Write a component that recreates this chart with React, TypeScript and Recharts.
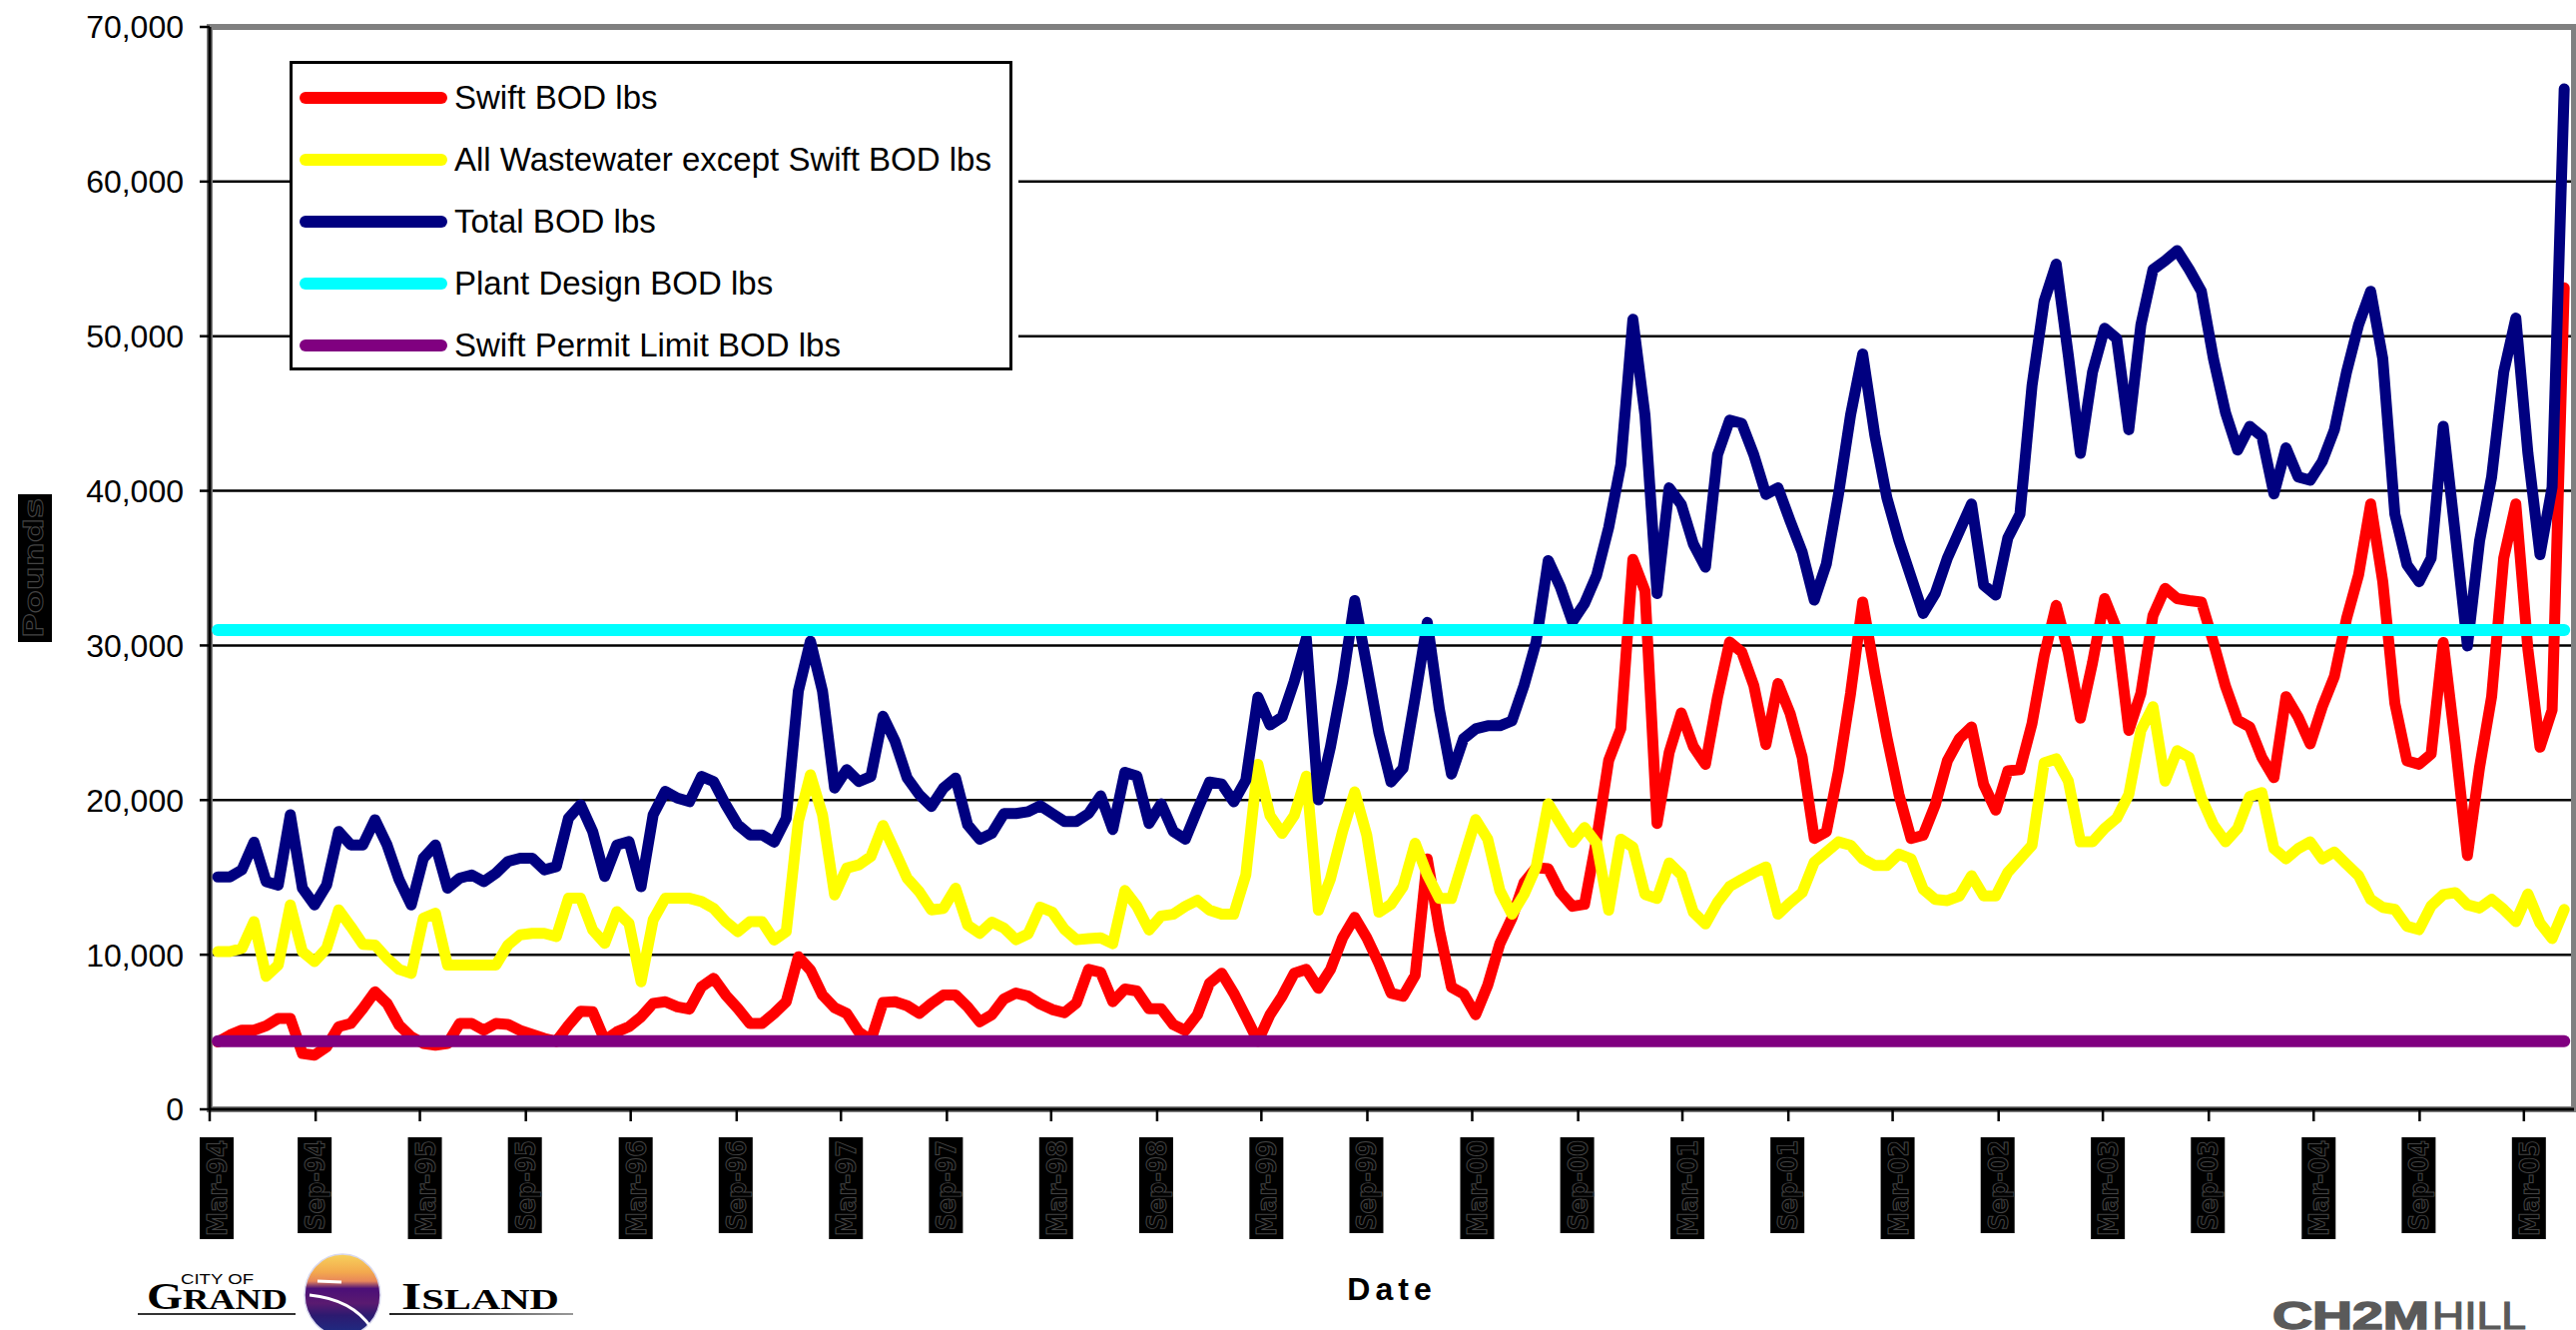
import {
  LineChart, Line, XAxis, YAxis, CartesianGrid, Legend, ReferenceArea,
} from 'recharts';

// values, one sample every 21 days starting mid March
const swiftBod = [
  4360, 4800, 5120, 5120, 5400, 5880, 5880, 3610, 3500, 4040, 5340, 5550, 6520, 7600, 6850, 5440,
  4690, 4260, 4150, 4260, 5550, 5550, 5120, 5550, 5490, 5100, 4840, 4580, 4400, 5440, 6350, 6310,
  4470, 5010, 5340, 5980, 6850, 6960, 6630, 6480, 7930, 8470, 7390, 6520, 5550, 5550, 6200, 6960,
  9870, 9010, 7390, 6570, 6200, 5010, 4470, 6910, 6960, 6700, 6200, 6850, 7390, 7390, 6630, 5660,
  6120, 7140, 7520, 7320, 6810, 6450, 6250, 6880, 9050, 8850, 6960, 7780, 7650, 6500, 6500, 5480,
  5100, 6120, 8160, 8800, 7520, 5990, 4410, 6120, 7320, 8800, 9050, 7830, 9050, 11090, 12420, 11090,
  9440, 7520, 7320, 8670, 16190, 11600, 7900, 7470, 6120, 8030, 10710, 12370, 14660, 15630, 15560, 14030,
  13130, 13260, 17470, 22570, 24610, 35570, 33530, 18490, 23080, 25630, 23460, 22310, 26650, 30220, 29580, 27410,
  23590, 27540, 25600, 22760, 17520, 17950, 21890, 26910, 32810, 28220, 24070, 20360, 17520, 17730, 19700, 22540,
  23980, 24730, 21010, 19350, 21890, 21970, 24950, 29320, 32590, 29530, 25300, 28880, 33030, 31060, 24510, 26910,
  31940, 33690, 33030, 32900, 32810, 30190, 27350, 25160, 24730, 22760, 21450, 26690, 25380, 23630, 26040, 28000,
  31720, 34560, 39150, 34120, 26260, 22540, 22320, 22980, 30190, 23630, 16420, 22100, 26690, 35650, 39150, 29750,
  23420, 25820, 53130,
];

const otherBod = [
  10200, 10200, 10410, 12140, 8600, 9330, 13220, 10200, 9550, 10410, 12900, 11820, 10670, 10630, 9760, 9050,
  8790, 12360, 12680, 9330, 9330, 9330, 9330, 9330, 10630, 11280, 11380, 11380, 11170, 13650, 13650, 11600,
  10740, 12790, 12030, 8250, 12250, 13650, 13650, 13650, 13440, 13000, 12140, 11490, 12140, 12140, 10950, 11490,
  18620, 21640, 19050, 13870, 15600, 15810, 16350, 18360, 16680, 14950, 14080, 12900, 13000, 14300, 11920, 11380,
  12110, 11730, 10970, 11350, 13080, 12750, 11650, 10970, 11040, 11090, 10710, 14150, 13130, 11600, 12500, 12620,
  13130, 13520, 12880, 12620, 12620, 15170, 22310, 19000, 17850, 19000, 21550, 12880, 14920, 17980, 20530, 17720,
  12750, 13260, 14410, 17210, 15170, 13640, 13640, 16190, 18740, 17470, 14150, 12620, 13900, 15680, 19760, 18490,
  17260, 18230, 17210, 12880, 17470, 16960, 13900, 13640, 15940, 15170, 12750, 11990, 13390, 14410, 14870, 15300,
  15680, 12620, 13360, 14020, 15990, 16640, 17300, 17080, 16200, 15770, 15770, 16510, 16200, 14240, 13580, 13500,
  13800, 15110, 13800, 13800, 15330, 16200, 17080, 22410, 22670, 21230, 17300, 17300, 18170, 18830, 20360, 24510,
  26040, 21230, 23200, 22760, 20140, 18390, 17300, 18170, 20230, 20490, 16860, 16200, 16860, 17300, 16200, 16640,
  15860, 15110, 13580, 13060, 12930, 11840, 11620, 13150, 13890, 14020, 13230, 13020, 13580, 12930, 12140, 13930,
  12050, 11050, 12930,
];

const totalBod = [
  15030, 15030, 15490, 17280, 14730, 14500, 19050, 14300, 13220, 14500, 17970, 17100, 17100, 18730, 17100, 14840,
  13220, 16240, 17100, 14300, 14950, 15160, 14730, 15270, 16030, 16240, 16240, 15490, 15700, 18830, 19700, 17970,
  15060, 17100, 17320, 14400, 19050, 20560, 20130, 19900, 21530, 21200, 19700, 18400, 17750, 17750, 17280, 18830,
  27040, 30280, 27040, 20780, 21970, 21200, 21530, 25420, 23800, 21430, 20350, 19590, 20780, 21430, 18400, 17470,
  17850, 19130, 19130, 19250, 19640, 19130, 18620, 18620, 19130, 20270, 18100, 21800, 21550, 18490, 19760, 17980,
  17470, 19380, 21170, 21040, 19890, 21290, 26650, 24860, 25370, 27670, 30470, 20020, 23460, 27670, 32900, 28690,
  24350, 21170, 22060, 26650, 31490, 25880, 21680, 23970, 24610, 24810, 24810, 25120, 27410, 30220, 35490, 33780,
  31540, 32710, 34530, 37630, 41690, 51090, 44900, 33360, 40190, 39120, 36560, 35060, 42330, 44570, 44360, 42330,
  39770, 40190, 38060, 36030, 32930, 35280, 39770, 44900, 48850, 43610, 39550, 36770, 34420, 32070, 33360, 35650,
  37400, 39150, 33900, 33250, 36960, 38490, 46800, 52260, 54660, 48760, 42430, 47670, 50510, 49850, 43950, 50730,
  54310, 54880, 55540, 54310, 52910, 48540, 45050, 42640, 44170, 43520, 39800, 42780, 40900, 40680, 41900, 43950,
  47670, 50730, 52910, 48540, 38490, 35220, 34120, 35650, 44170, 37180, 29970, 36740, 40900, 47670, 51170, 42430,
  35870, 40240, 66000,
];

const PLANT_DESIGN_BOD = 31000;
const SWIFT_PERMIT_BOD = 4400;

const yTicks = [0, 10000, 20000, 30000, 40000, 50000, 60000, 70000];
const tickDays = [
  0, 184, 365, 549, 731, 915, 1096, 1280, 1461, 1645, 1826, 2010,
  2192, 2376, 2557, 2741, 2922, 3106, 3287, 3471, 3653, 3837, 4018,
];
const tickLabels = [
  'Mar-94', 'Sep-94', 'Mar-95', 'Sep-95', 'Mar-96', 'Sep-96', 'Mar-97', 'Sep-97',
  'Mar-98', 'Sep-98', 'Mar-99', 'Sep-99', 'Mar-00', 'Sep-00', 'Mar-01', 'Sep-01',
  'Mar-02', 'Sep-02', 'Mar-03', 'Sep-03', 'Mar-04', 'Sep-04', 'Mar-05',
];

const data = swiftBod.map((swift, i) => ({
  day: 14 + i * 21,
  swift,
  other: otherBod[i],
  total: totalBod[i],
  plant: PLANT_DESIGN_BOD,
  permit: SWIFT_PERMIT_BOD,
}));

const FONT = '"Liberation Sans", Arial, sans-serif';
const numFmt = (v: number) => v.toLocaleString('en-US');

// the date labels show up as dark blocks with hollow glyphs in the original
function DateTick({ x, y, payload }: any) {
  const i = tickDays.indexOf(payload.value);
  const tall = i % 2 === 0;
  const top = y + 16;
  const h = tall ? 102 : 96;
  const left = x + (i === 0 ? -10 : tall ? -12 : -18);
  return (
    <g>
      <rect x={left} y={top} width={34} height={h} fill="#000" />
      <text
        transform={`translate(${left + 27},${top + h - 3}) rotate(-90)`}
        fontFamily='"DejaVu Sans", sans-serif'
        fontWeight="bold"
        fontSize={26}
        fill="#000"
        stroke="#444"
        strokeWidth={1}
        textLength={h - 6}
        lengthAdjust="spacingAndGlyphs"
      >
        {tickLabels[i]}
      </text>
    </g>
  );
}

function LegendBox({ payload }: any) {
  return (
    <div style={{ width: 724, height: 310, boxSizing: 'border-box', border: '3px solid #000', background: '#fff', boxShadow: '6px 0 0 #fff' }}>
      {payload.map((item: any) => (
        <div key={item.value} style={{ height: 62, display: 'flex', alignItems: 'center', position: 'relative', top: 3 }}>
          <div style={{ width: 148, height: 12, marginLeft: 7, borderRadius: 6, background: item.color }} />
          <span style={{ marginLeft: 7, fontFamily: FONT, fontSize: 33, color: '#000', whiteSpace: 'nowrap' }}>{item.value}</span>
        </div>
      ))}
    </div>
  );
}

function Overlay() {
  return (
    <svg width={2580} height={1332} style={{ position: 'absolute', left: 0, top: 0, pointerEvents: 'none' }}>
      <defs>
        <linearGradient id="sunset" x1="0" y1="0" x2="0" y2="1">
          <stop offset="0" stopColor="#f7d25c" />
          <stop offset="0.22" stopColor="#f3a94e" />
          <stop offset="0.33" stopColor="#e8875a" />
          <stop offset="0.42" stopColor="#4b0f78" />
          <stop offset="0.6" stopColor="#5a1a70" />
          <stop offset="0.75" stopColor="#2c1a70" />
          <stop offset="1" stopColor="#1c2f86" />
        </linearGradient>
        <linearGradient id="rule" x1="0" y1="0" x2="1" y2="0">
          <stop offset="0" stopColor="#222" />
          <stop offset="1" stopColor="#999" />
        </linearGradient>
      </defs>

      <rect x={18} y={495} width={34} height={148} fill="#000" />
      <text
        transform="translate(43,639) rotate(-90)"
        fontFamily='"DejaVu Sans", sans-serif'
        fontWeight="bold"
        fontSize={27}
        fill="#000"
        stroke="#444"
        strokeWidth={1}
        textLength={140}
        lengthAdjust="spacingAndGlyphs"
      >
        Pounds
      </text>

      <text x={181} y={1286} fontFamily={FONT} fontSize={15} textLength={73} lengthAdjust="spacingAndGlyphs">CITY OF</text>
      <text x={147} y={1311} fontFamily='"Liberation Serif", serif' fontWeight="bold" fontSize={37} textLength={141} lengthAdjust="spacingAndGlyphs">
        G<tspan fontSize={29}>RAND</tspan>
      </text>
      <rect x={138} y={1315} width={158} height={2} fill="#333" />
      <ellipse cx={343} cy={1297} rx={38} ry={41} fill="url(#sunset)" stroke="#d8d8ee" strokeWidth={1.5} />
      <path d="M310 1297 C340 1300 360 1312 372 1330" fill="none" stroke="#fff" strokeWidth={3} />
      <path d="M318 1283 L342 1284" fill="none" stroke="#fff" strokeWidth={3} />
      <text x={402} y={1311} fontFamily='"Liberation Serif", serif' fontWeight="bold" fontSize={37} textLength={158} lengthAdjust="spacingAndGlyphs">
        I<tspan fontSize={29}>SLAND</tspan>
      </text>
      <rect x={390} y={1315} width={184} height={2} fill="url(#rule)" />

      <text x={2276} y={1331} fontFamily={FONT} fontWeight="bold" fontSize={38} fill="#5a5a5a" stroke="#5a5a5a" strokeWidth={1.5} textLength={157} lengthAdjust="spacingAndGlyphs">CH2M</text>
      <text x={2436} y={1331} fontFamily={FONT} fontSize={38} fill="#5a5a5a" stroke="#5a5a5a" strokeWidth={1.2} textLength={94} lengthAdjust="spacingAndGlyphs">HILL</text>
    </svg>
  );
}

export default function App() {
  return (
    <div style={{ position: 'absolute', left: 0, top: 0, width: 2580, height: 1332, background: '#fff', overflow: 'hidden' }}>
      <LineChart width={2580} height={1332} data={data} margin={{ top: 27, right: 2, left: 0, bottom: 0 }}>
        <ReferenceArea x1={0} x2={4105} y1={0} y2={70000} fill="none" stroke="#808080" strokeWidth={6} />
        <CartesianGrid horizontal vertical={false} stroke="#000" strokeWidth={2.5} />
        <XAxis
          dataKey="day"
          type="number"
          domain={[0, 4105]}
          ticks={tickDays}
          interval={0}
          height={221}
          tickSize={12}
          tickMargin={0}
          tick={<DateTick />}
          axisLine={{ stroke: '#000', strokeWidth: 3 }}
          tickLine={{ stroke: '#000', strokeWidth: 2.5 }}
          label={{
            value: 'Date', position: 'insideBottom', offset: 30,
            style: { fontFamily: FONT, fontWeight: 'bold', fontSize: 32, letterSpacing: 5, fill: '#000' },
          }}
        />
        <YAxis
          width={210}
          domain={[0, 70000]}
          ticks={yTicks}
          interval={0}
          tickFormatter={numFmt}
          tickSize={10}
          tickMargin={16}
          tick={{ fontFamily: FONT, fontSize: 32, fill: '#000' }}
          axisLine={{ stroke: '#000', strokeWidth: 3 }}
          tickLine={{ stroke: '#000', strokeWidth: 2.5 }}
        />
        <Legend
          content={<LegendBox />}
          layout="horizontal"
          verticalAlign="middle"
          align="center"
          itemSorter={null}
          wrapperStyle={{ position: 'absolute', left: 290, top: 61, width: 730, height: 310, bottom: 'auto', right: 'auto' }}
        />
        <Line type="linear" dataKey="swift" name="Swift BOD lbs" stroke="#ff0000" strokeWidth={11} strokeLinejoin="round" strokeLinecap="round" dot={false} isAnimationActive={false} />
        <Line type="linear" dataKey="other" name="All Wastewater except Swift BOD lbs" stroke="#ffff00" strokeWidth={11} strokeLinejoin="round" strokeLinecap="round" dot={false} isAnimationActive={false} />
        <Line type="linear" dataKey="total" name="Total BOD lbs" stroke="#000080" strokeWidth={11} strokeLinejoin="round" strokeLinecap="round" dot={false} isAnimationActive={false} />
        <Line type="linear" dataKey="plant" name="Plant Design BOD lbs" stroke="#00ffff" strokeWidth={12} strokeLinecap="round" dot={false} isAnimationActive={false} />
        <Line type="linear" dataKey="permit" name="Swift Permit Limit BOD lbs" stroke="#800080" strokeWidth={12} strokeLinecap="round" dot={false} isAnimationActive={false} />
      </LineChart>
      <Overlay />
    </div>
  );
}
